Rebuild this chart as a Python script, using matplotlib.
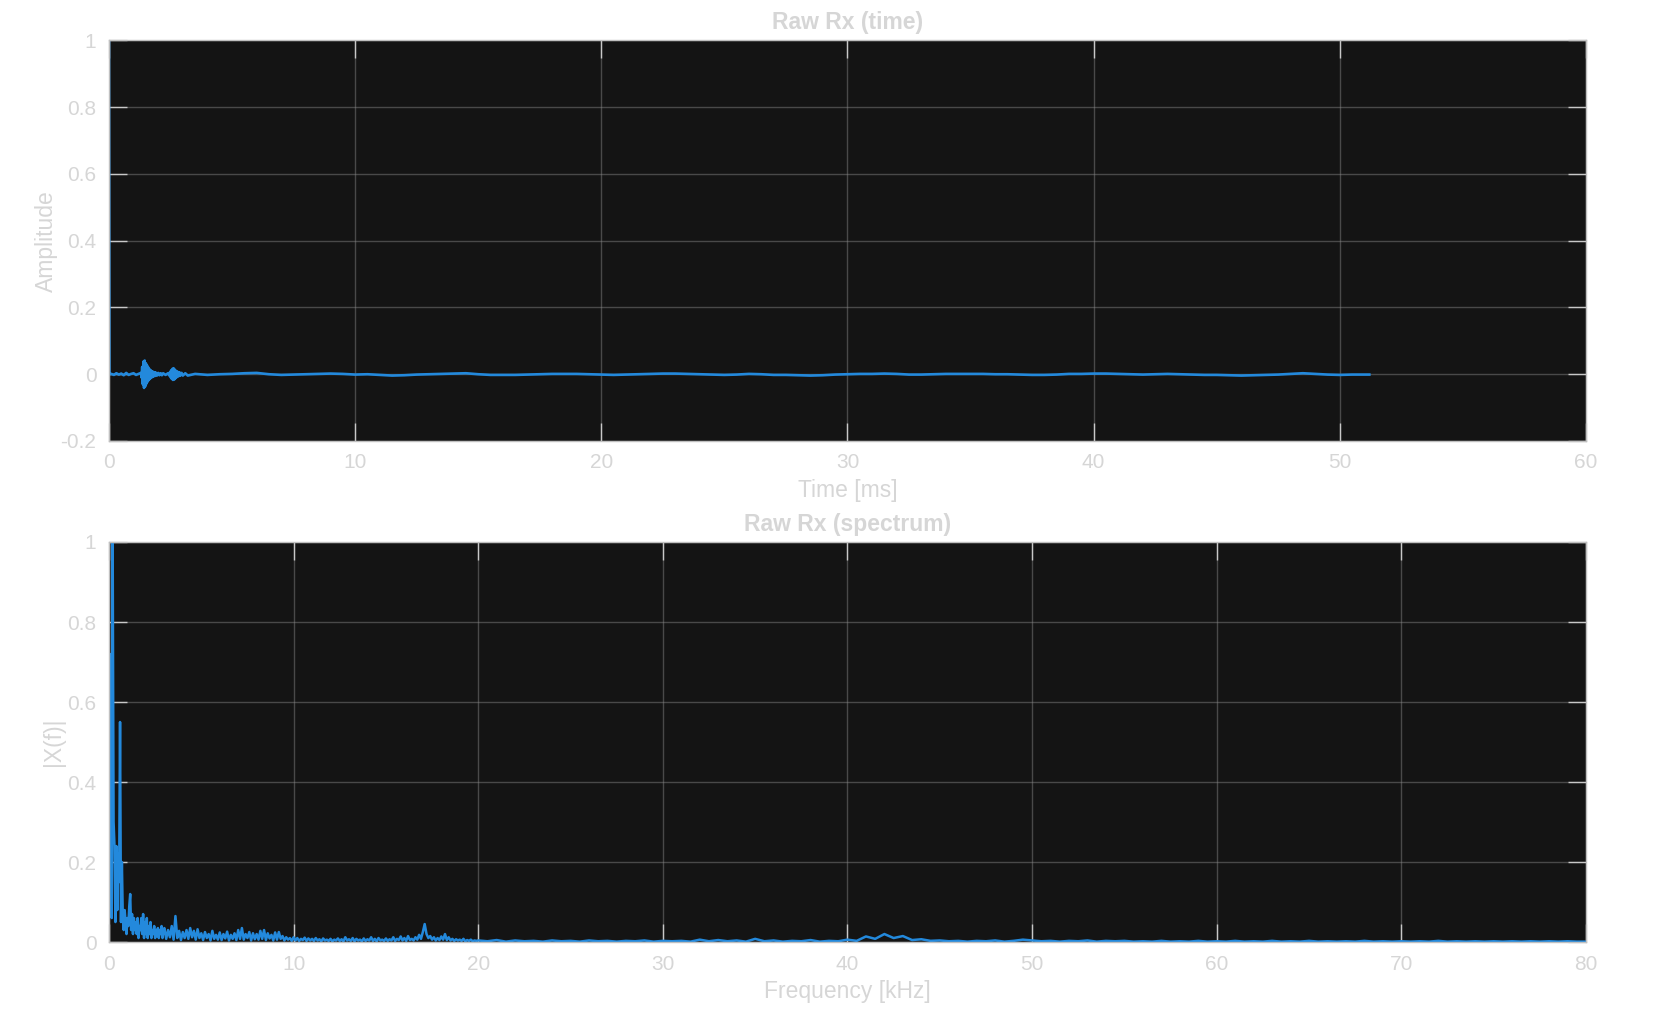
import numpy as np
import matplotlib
matplotlib.use("Agg")
import matplotlib.pyplot as plt
from matplotlib.ticker import FuncFormatter

plt.rcParams['font.family'] = ['Liberation Sans', 'DejaVu Sans']

# ---- time signal (ms, amplitude) ----
t_start = [0.0, 0.02, 0.1, 0.2, 0.3, 0.4, 0.5, 0.6, 0.7, 0.8, 0.9, 1.0, 1.1, 1.2]
y_start = [1.0, 0.0, 0.001, -0.002, 0.003, -0.001, 0.002, -0.003, 0.004, -0.002, 0.001, 0.003, -0.002, 0.001]

t_burst = [1.300, 1.325, 1.350, 1.375, 1.400, 1.425, 1.450, 1.475, 1.500, 1.525,
           1.550, 1.575, 1.600, 1.625, 1.650, 1.675, 1.700, 1.725, 1.750, 1.775,
           1.800, 1.825, 1.850, 1.875, 1.900, 1.950, 2.000, 2.050, 2.100, 2.150,
           2.200, 2.300, 2.400,
           2.450, 2.475, 2.500, 2.525, 2.550, 2.575, 2.600, 2.625, 2.650, 2.675,
           2.700, 2.725, 2.750, 2.775, 2.800, 2.825, 2.850, 2.875, 2.900, 2.950,
           3.000, 3.100, 3.200]
y_burst = [0.004, -0.010, 0.022, -0.030, 0.038, -0.041, 0.041, -0.036, 0.033, -0.028,
           0.026, -0.022, 0.020, -0.017, 0.015, -0.013, 0.012, -0.010, 0.009, -0.008,
           0.007, -0.006, 0.006, -0.005, 0.005, -0.004, 0.004, -0.003, 0.003, -0.003,
           0.003, -0.002, 0.003,
           -0.004, 0.006, -0.009, 0.012, -0.014, 0.016, -0.017, 0.018, -0.016, 0.014,
           -0.012, 0.010, -0.009, 0.008, -0.007, 0.006, -0.005, 0.005, -0.004, 0.004,
           -0.004, 0.003, -0.004]

t_tail = [3.5, 4.0, 4.5, 5.0, 5.5, 6.0, 6.5, 7.0, 7.5, 8.0, 8.5, 9.0, 9.5, 10.0,
          10.5, 11.0, 11.5, 12.0, 12.5, 13.0, 13.5, 14.0, 14.5, 15.0, 15.5, 16.0,
          16.5, 17.0, 17.5, 18.0, 18.5, 19.0, 19.5, 20.0, 20.5, 21.0, 21.5, 22.0,
          22.5, 23.0, 23.5, 24.0, 24.5, 25.0, 25.5, 26.0, 26.5, 27.0, 27.5, 28.0,
          28.5, 29.0, 29.5, 30.0, 30.5, 31.0, 31.5, 32.0, 32.5, 33.0, 33.5, 34.0,
          34.5, 35.0, 35.5, 36.0, 36.5, 37.0, 37.5, 38.0, 38.5, 39.0, 39.5, 40.0,
          40.5, 41.0, 41.5, 42.0, 42.5, 43.0, 43.5, 44.0, 44.5, 45.0, 45.5, 46.0,
          46.5, 47.0, 47.5, 48.0, 48.5, 49.0, 49.5, 50.0, 50.5, 51.0, 51.2]
y_tail = [0.001, -0.002, 0.000, 0.001, 0.003, 0.004, 0.000, -0.002, -0.001, 0.000,
          0.001, 0.002, 0.001, -0.001, 0.000, -0.002, -0.004, -0.003, -0.001, 0.000,
          0.001, 0.002, 0.003, 0.000, -0.002, -0.002, -0.002, -0.001, 0.000, 0.001,
          0.001, 0.001, 0.000, -0.001, -0.002, -0.001, 0.000, 0.001, 0.002, 0.002,
          0.001, 0.000, -0.001, -0.002, -0.001, 0.001, 0.000, -0.002, -0.002, -0.003,
          -0.004, -0.003, -0.001, 0.000, 0.001, 0.001, 0.002, 0.001, -0.001, -0.001,
          0.000, 0.001, 0.001, 0.001, 0.001, 0.000, 0.000, -0.001, -0.002, -0.002,
          -0.001, 0.001, 0.001, 0.002, 0.002, 0.001, 0.000, -0.001, 0.000, 0.001,
          0.000, -0.001, -0.002, -0.002, -0.003, -0.004, -0.003, -0.002, -0.001, 0.001,
          0.003, 0.001, -0.001, -0.002, -0.001, -0.001, -0.001]

# ---- spectrum |X(f)| ----
f_low = np.arange(0, 3.0, 0.05)
mag_low = [0.10, 0.45, 0.72, 0.06, 1.00, 0.30, 0.24, 0.05, 0.24, 0.08,
           0.22, 0.15, 0.55, 0.05, 0.20, 0.06, 0.03, 0.08, 0.05, 0.02,
           0.06, 0.04, 0.09, 0.12, 0.03, 0.07, 0.02, 0.06, 0.03, 0.05,
           0.02, 0.06, 0.01, 0.04, 0.03, 0.06, 0.02, 0.07, 0.01, 0.05,
           0.02, 0.06, 0.01, 0.04, 0.02, 0.05, 0.01, 0.03, 0.02, 0.04,
           0.01, 0.03, 0.015, 0.035, 0.01, 0.03, 0.02, 0.04, 0.01, 0.03]

f_mid = np.arange(3.0, 19.95, 0.1)
mag_mid = [0.035, 0.008, 0.030, 0.012, 0.040, 0.006, 0.065, 0.010, 0.028, 0.005,
           0.025, 0.010, 0.030, 0.008, 0.035, 0.012, 0.028, 0.006, 0.032, 0.010,
           0.022, 0.005, 0.025, 0.010, 0.020, 0.004, 0.028, 0.008, 0.018, 0.006,
           0.024, 0.005, 0.020, 0.009, 0.026, 0.004, 0.018, 0.008, 0.022, 0.005,
           0.030, 0.008, 0.035, 0.006, 0.020, 0.010, 0.025, 0.004, 0.022, 0.007,
           0.020, 0.006, 0.028, 0.008, 0.030, 0.005, 0.022, 0.009, 0.018, 0.004,
           0.024, 0.006, 0.025, 0.008, 0.015, 0.004, 0.012, 0.006, 0.010, 0.003,
           0.012, 0.004, 0.010, 0.003, 0.008, 0.005, 0.011, 0.003, 0.009, 0.004,
           0.008, 0.003, 0.010, 0.004, 0.007, 0.002, 0.009, 0.004, 0.006, 0.003,
           0.008, 0.002, 0.006, 0.004, 0.009, 0.003, 0.007, 0.002, 0.012, 0.004,
           0.007, 0.003, 0.010, 0.002, 0.008, 0.004, 0.006, 0.002, 0.009, 0.003,
           0.007, 0.004, 0.012, 0.003, 0.008, 0.002, 0.010, 0.004, 0.006, 0.003,
           0.009, 0.003, 0.007, 0.004, 0.012, 0.003, 0.008, 0.005, 0.014, 0.004,
           0.010, 0.003, 0.015, 0.005, 0.008, 0.004, 0.012, 0.006, 0.018, 0.008,
           0.025, 0.045, 0.020, 0.010, 0.015, 0.006, 0.012, 0.004, 0.010, 0.005,
           0.014, 0.006, 0.020, 0.005, 0.012, 0.004, 0.008, 0.003, 0.007, 0.004,
           0.006, 0.003, 0.008, 0.002, 0.005, 0.003, 0.006, 0.002, 0.004, 0.003]

f_high = np.arange(20.0, 80.25, 0.5)
mag_high = [0.004, 0.002, 0.005, 0.001, 0.004, 0.002, 0.003, 0.001, 0.004, 0.002,
            0.003, 0.001, 0.004, 0.002, 0.003, 0.001, 0.003, 0.002, 0.004, 0.001,
            0.003, 0.002, 0.003, 0.001, 0.006, 0.002, 0.005, 0.002, 0.004, 0.001,
            0.008, 0.002, 0.004, 0.001, 0.003, 0.002, 0.005, 0.001, 0.003, 0.002,
            0.006, 0.003, 0.014, 0.008, 0.020, 0.010, 0.015, 0.005, 0.007, 0.003,
            0.004, 0.002, 0.003, 0.001, 0.003, 0.002, 0.004, 0.001, 0.003, 0.006,
            0.004, 0.002, 0.003, 0.001, 0.003, 0.002, 0.004, 0.001, 0.003, 0.002,
            0.003, 0.001, 0.002, 0.001, 0.003, 0.001, 0.002, 0.001, 0.003, 0.001,
            0.002, 0.001, 0.003, 0.001, 0.002, 0.001, 0.003, 0.001, 0.002, 0.001,
            0.003, 0.001, 0.002, 0.001, 0.002, 0.001, 0.003, 0.001, 0.002, 0.001,
            0.002, 0.001, 0.002, 0.001, 0.003, 0.001, 0.002, 0.001, 0.002, 0.001,
            0.002, 0.001, 0.002, 0.001, 0.002, 0.001, 0.002, 0.001, 0.002, 0.001,
            0.001]

t_ms = np.concatenate([t_start, t_burst, t_tail])
x_t = np.concatenate([y_start, y_burst, y_tail])
f_khz = np.concatenate([f_low, f_mid, f_high])
X_f = np.concatenate([mag_low, mag_mid, mag_high])

line_c = '#2389dc'
txt_c = '#d6d6d6'
bg_c = '#141414'


def style(ax):
    ax.set_facecolor(bg_c)
    for s in ax.spines.values():
        s.set_color('#c0c0c0')
        s.set_linewidth(1.0)
    ax.tick_params(direction='in', length=13, width=1, colors='#c8c8c8',
                   labelcolor=txt_c, labelsize=15, top=True, right=True, pad=9)
    ax.grid(True, color='#8a8a8a', alpha=0.45, linewidth=1.0)
    ax.set_axisbelow(True)
    ax.yaxis.set_major_formatter(FuncFormatter(lambda v, p: '%g' % round(v, 6)))
    ax.xaxis.set_major_formatter(FuncFormatter(lambda v, p: '%g' % round(v, 6)))


fig = plt.figure(figsize=(16.79, 10.11), dpi=100)
fig.patch.set_facecolor('white')

ax1 = fig.add_axes([0.0649, 0.5638, 0.8797, 0.3962])
style(ax1)
ax1.plot(t_ms, x_t, color=line_c, linewidth=1.9)
ax1.set_xlim(0, 60)
ax1.set_ylim(-0.2, 1)
ax1.set_xticks(np.arange(0, 61, 10))
ax1.set_yticks([-0.2, 0, 0.2, 0.4, 0.6, 0.8, 1])
ax1.set_title('Raw Rx (time)', color=txt_c, fontsize=16.5, fontweight='bold', pad=8)
ax1.set_xlabel('Time [ms]', color=txt_c, fontsize=16.5, labelpad=5)
ax1.set_ylabel('Amplitude', color=txt_c, fontsize=16.5, labelpad=2)

ax2 = fig.add_axes([0.0649, 0.0682, 0.8797, 0.3957])
style(ax2)
ax2.plot(f_khz, X_f, color=line_c, linewidth=1.8)
ax2.set_xlim(0, 80)
ax2.set_ylim(0, 1)
ax2.set_xticks(np.arange(0, 81, 10))
ax2.set_yticks([0, 0.2, 0.4, 0.6, 0.8, 1])
ax2.set_title('Raw Rx (spectrum)', color=txt_c, fontsize=16.5, fontweight='bold', pad=8)
ax2.set_xlabel('Frequency [kHz]', color=txt_c, fontsize=16.5, labelpad=5)
ax2.set_ylabel('|X(f)|', color=txt_c, fontsize=16.5, labelpad=2)

fig.savefig('out.png', dpi=100, facecolor='white')
